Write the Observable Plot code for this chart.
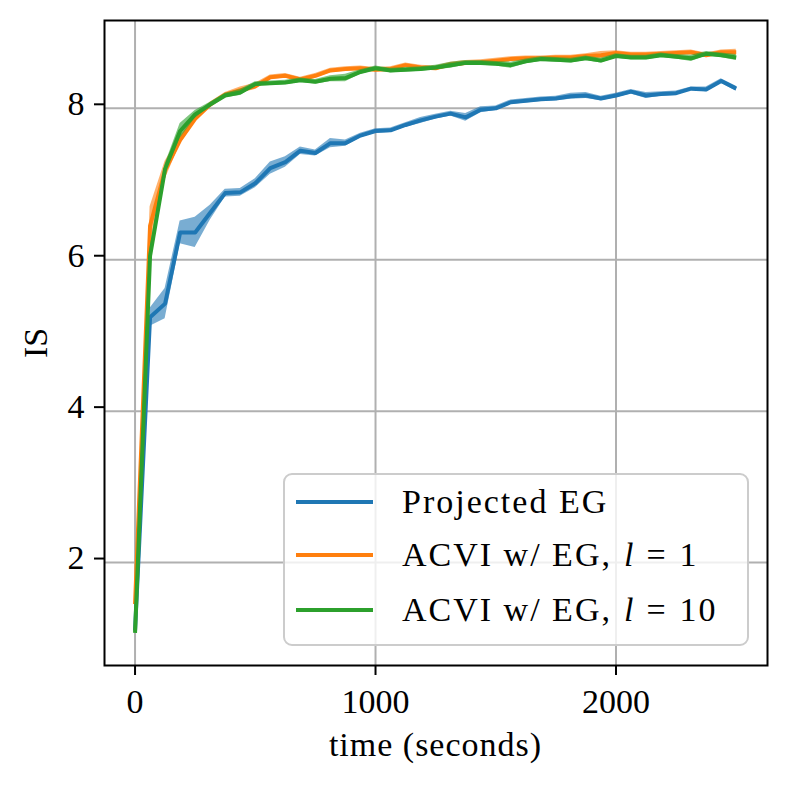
<!DOCTYPE html>
<html>
<head>
<meta charset="utf-8">
<script src="https://cdn.jsdelivr.net/npm/d3@7"></script>
<script src="https://cdn.jsdelivr.net/npm/@observablehq/plot@0.6"></script>
<style>
  html, body { margin: 0; padding: 0; background: #fff; }
  #chart svg { display: block; }
</style>
</head>
<body>
<div id="chart"></div>
<script>
// ---- data ----
const time = [0, 62.5, 125, 187.5, 250, 312.5, 375, 437.5, 500, 562.5,
  625, 687.5, 750, 812.5, 875, 937.5, 1000, 1062.5, 1125, 1187.5,
  1250, 1312.5, 1375, 1437.5, 1500, 1562.5, 1625, 1687.5, 1750, 1812.5,
  1875, 1937.5, 2000, 2062.5, 2125, 2187.5, 2250, 2312.5, 2375, 2437.5, 2500];

const projectedEG = [1.10, 5.24, 5.42, 6.36, 6.36, 6.62, 6.88, 6.89, 7.01, 7.21,
  7.29, 7.44, 7.41, 7.54, 7.54, 7.64, 7.70, 7.71, 7.78, 7.84,
  7.89, 7.93, 7.88, 7.98, 8.00, 8.08, 8.10, 8.12, 8.13, 8.16,
  8.17, 8.13, 8.17, 8.22, 8.17, 8.19, 8.20, 8.26, 8.25, 8.36, 8.26];
const projectedEGSd = [0.02, 0.12, 0.20, 0.15, 0.20, 0.10, 0.05, 0.05, 0.06, 0.08,
  0.07, 0.05, 0.04, 0.06, 0.04, 0.03, 0.03, 0.03, 0.03, 0.04,
  0.03, 0.03, 0.05, 0.04, 0.03, 0.03, 0.03, 0.03, 0.03, 0.04,
  0.04, 0.03, 0.03, 0.03, 0.04, 0.03, 0.03, 0.02, 0.03, 0.03, 0.03];

const acviL1 = [1.45, 6.45, 7.18, 7.58, 7.86, 8.05, 8.18, 8.24, 8.29, 8.41,
  8.43, 8.38, 8.43, 8.50, 8.52, 8.53, 8.51, 8.52, 8.57, 8.54,
  8.53, 8.58, 8.60, 8.61, 8.63, 8.65, 8.66, 8.66, 8.67, 8.67,
  8.69, 8.70, 8.73, 8.71, 8.71, 8.72, 8.73, 8.74, 8.70, 8.74, 8.74];
const acviL1Sd = [0.02, 0.25, 0.12, 0.05, 0.04, 0.03, 0.03, 0.04, 0.04, 0.03,
  0.03, 0.03, 0.03, 0.03, 0.03, 0.03, 0.03, 0.03, 0.03, 0.03,
  0.03, 0.03, 0.03, 0.03, 0.03, 0.03, 0.03, 0.03, 0.03, 0.03,
  0.03, 0.05, 0.03, 0.03, 0.03, 0.03, 0.03, 0.03, 0.03, 0.03, 0.04];

const acviL10 = [1.07, 6.05, 7.20, 7.70, 7.92, 8.05, 8.17, 8.21, 8.32, 8.33,
  8.34, 8.37, 8.35, 8.39, 8.40, 8.48, 8.53, 8.50, 8.51, 8.52,
  8.54, 8.57, 8.60, 8.60, 8.59, 8.57, 8.62, 8.65, 8.64, 8.63,
  8.66, 8.63, 8.69, 8.67, 8.67, 8.70, 8.68, 8.66, 8.72, 8.70, 8.67];
const acviL10Sd = [0.02, 0.10, 0.06, 0.10, 0.05, 0.03, 0.03, 0.04, 0.03, 0.03,
  0.03, 0.03, 0.03, 0.04, 0.05, 0.03, 0.03, 0.03, 0.03, 0.03,
  0.03, 0.04, 0.03, 0.03, 0.03, 0.04, 0.03, 0.03, 0.03, 0.03,
  0.03, 0.03, 0.03, 0.03, 0.03, 0.03, 0.03, 0.04, 0.03, 0.03, 0.04];

const seriesNames = ["Projected EG", "ACVI w/ EG, l = 1", "ACVI w/ EG, l = 10"];
const seriesColors = ["#1f77b4", "#ff7f0e", "#2ca02c"];
const xTicks = [0, 1000, 2000];
const yTicks = [2, 4, 6, 8];

// ---- build table ----
const seriesDefs = [
  {name: seriesNames[0], mean: projectedEG, sd: projectedEGSd, color: seriesColors[0]},
  {name: seriesNames[1], mean: acviL1, sd: acviL1Sd, color: seriesColors[1]},
  {name: seriesNames[2], mean: acviL10, sd: acviL10Sd, color: seriesColors[2]}
];
const tables = seriesDefs.map(s => time.map((t, i) => ({
  series: s.name, t, y: s.mean[i], lo: s.mean[i] - s.sd[i], hi: s.mean[i] + s.sd[i]
})));

const FONT = "'Liberation Serif', 'DejaVu Serif', serif";
const FS = 34;

const marks = [
  Plot.gridX(xTicks, {stroke: "#b0b0b0", strokeOpacity: 1, strokeWidth: 2}),
  Plot.gridY(yTicks, {stroke: "#b0b0b0", strokeOpacity: 1, strokeWidth: 2})
];
seriesDefs.forEach((s, k) => {
  marks.push(Plot.areaY(tables[k], {x: "t", y1: "lo", y2: "hi", fill: s.color, fillOpacity: 0.6}));
  marks.push(Plot.lineY(tables[k], {x: "t", y: "y", stroke: s.color, strokeWidth: 4, strokeLinejoin: "round", strokeLinecap: "butt"}));
});
marks.push(Plot.frame({stroke: "black", strokeWidth: 2}));
marks.push(Plot.axisX(xTicks, {tickSize: 10, tickPadding: 13, strokeWidth: 2, fontSize: FS, label: null, tickFormat: d => String(d)}));
marks.push(Plot.axisY(yTicks, {tickSize: 10, tickPadding: 10, strokeWidth: 2, fontSize: FS, label: null, dy: -4, tickFormat: d => String(d)}));

const svg = Plot.plot({
  width: 788,
  height: 790,
  marginLeft: 104,
  marginRight: 21,
  marginTop: 20,
  marginBottom: 125,
  x: {domain: [-127, 2630]},
  y: {domain: [0.64, 9.16]},
  style: {fontFamily: FONT, fontSize: FS + "px", background: "#fff", color: "black"},
  marks
});

document.getElementById("chart").appendChild(svg);

// ---- axis labels ----
const s = d3.select(svg);
s.append("text")
  .attr("x", 435.5).attr("y", 756)
  .attr("text-anchor", "middle")
  .attr("font-family", FONT).attr("font-size", FS).attr("letter-spacing", "1px")
  .attr("fill", "black")
  .text("time (seconds)");
s.append("text")
  .attr("transform", "translate(47,343) rotate(-90)")
  .attr("text-anchor", "middle")
  .attr("font-family", FONT).attr("font-size", FS)
  .attr("fill", "black")
  .text("IS");

// ---- legend ----
const lg = s.append("g");
lg.append("rect")
  .attr("x", 284).attr("y", 474).attr("width", 464).attr("height", 171)
  .attr("rx", 8).attr("ry", 8)
  .attr("fill", "white").attr("fill-opacity", 0.8)
  .attr("stroke", "#cccccc").attr("stroke-width", 2);
const rowsY = [502, 555, 610];
seriesDefs.forEach((sd, k) => {
  lg.append("line")
    .attr("x1", 296).attr("x2", 373).attr("y1", rowsY[k]).attr("y2", rowsY[k])
    .attr("stroke", sd.color).attr("stroke-width", 4);
  const t = lg.append("text")
    .attr("x", 402).attr("y", rowsY[k]).attr("dy", "0.33em")
    .attr("text-anchor", "start")
    .attr("font-family", FONT).attr("font-size", FS).attr("letter-spacing", "2px")
    .attr("fill", "black");
  const name = sd.name;
  const idx = name.indexOf(" l = ");
  if (idx < 0) {
    t.text(name);
  } else {
    t.append("tspan").text(name.slice(0, idx));
    t.append("tspan").attr("dx", 12).attr("font-style", "italic").text("l");
    t.append("tspan").attr("dx", 11).text("=");
    t.append("tspan").attr("dx", 12).text(name.slice(idx + 5));
  }
});
</script>
</body>
</html>
